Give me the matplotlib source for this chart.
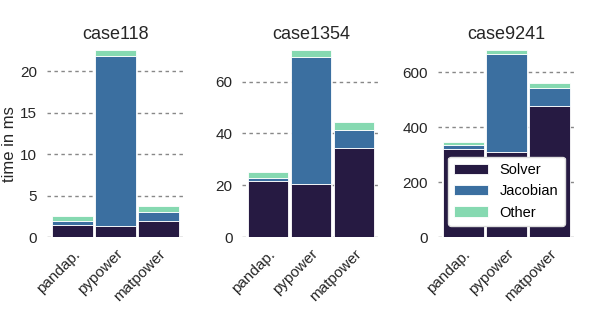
import numpy as np
import matplotlib
matplotlib.use("Agg")
import matplotlib.pyplot as plt

plt.rcParams['font.family'] = ['Liberation Sans', 'DejaVu Sans']

cases = ["case118", "case1354", "case9241"]
tools = ["pandap.", "pypower", "matpower"]
parts = ["Solver", "Jacobian", "Other"]

# time in ms per case, per tool
solver = {"case118": [1.5, 1.4, 2.0],
          "case1354": [21.5, 20.5, 34.5],
          "case9241": [322, 312, 478]}
jacobian = {"case118": [0.4, 20.4, 1.1],
            "case1354": [1.5, 49.0, 7.0],
            "case9241": [13, 353, 64]}
other = {"case118": [0.6, 0.7, 0.7],
         "case1354": [2.0, 2.5, 3.0],
         "case9241": [13, 15, 20]}
yticks = {"case118": [0, 5, 10, 15, 20],
          "case1354": [0, 20, 40, 60],
          "case9241": [0, 200, 400, 600]}

colors = ["#261a42", "#3b6fa0", "#86d9b1"]

fig, axes = plt.subplots(1, 3, figsize=(5.98, 3.25), dpi=100)
fig.subplots_adjust(left=0.078, right=0.962, top=0.845, bottom=0.27, wspace=0.42)

x = np.arange(len(tools))
for ax, case in zip(axes, cases):
    s = np.array(solver[case], dtype=float)
    j = np.array(jacobian[case], dtype=float)
    o = np.array(other[case], dtype=float)
    ax.bar(x, s, width=0.95, color=colors[0], edgecolor="white", linewidth=0.6, label=parts[0], zorder=3)
    ax.bar(x, j, bottom=s, width=0.95, color=colors[1], edgecolor="white", linewidth=0.6, label=parts[1], zorder=3)
    ax.bar(x, o, bottom=s + j, width=0.95, color=colors[2], edgecolor="white", linewidth=0.6, label=parts[2], zorder=3)
    ax.set_xlim(-0.6, 2.6)
    ax.set_ylim(0, (s + j + o).max())
    ax.set_yticks(yticks[case])
    ax.set_xticks(x)
    ax.set_xticklabels(tools, rotation=45, ha="right", rotation_mode="anchor")
    ax.set_title(case, fontsize=13, color="#262626", pad=8)
    ax.yaxis.grid(True, linestyle=(0, (2.5, 2.5)), color="#888888", linewidth=1, zorder=0)
    for sp in ax.spines.values():
        sp.set_visible(False)
    ax.tick_params(axis="y", length=0, labelsize=11, colors="#262626", pad=7)
    ax.tick_params(axis="x", length=0, labelsize=11, colors="#262626", pad=7)

axes[0].set_ylabel("time in ms", fontsize=12, color="#262626", labelpad=2)
leg = axes[2].legend(loc="lower left", bbox_to_anchor=(0.02, 0.02), fontsize=10.5,
                     frameon=True, facecolor="white", edgecolor="#dddddd",
                     framealpha=1, handlelength=2.3, borderpad=0.45)

fig.savefig("out.png", dpi=100)
